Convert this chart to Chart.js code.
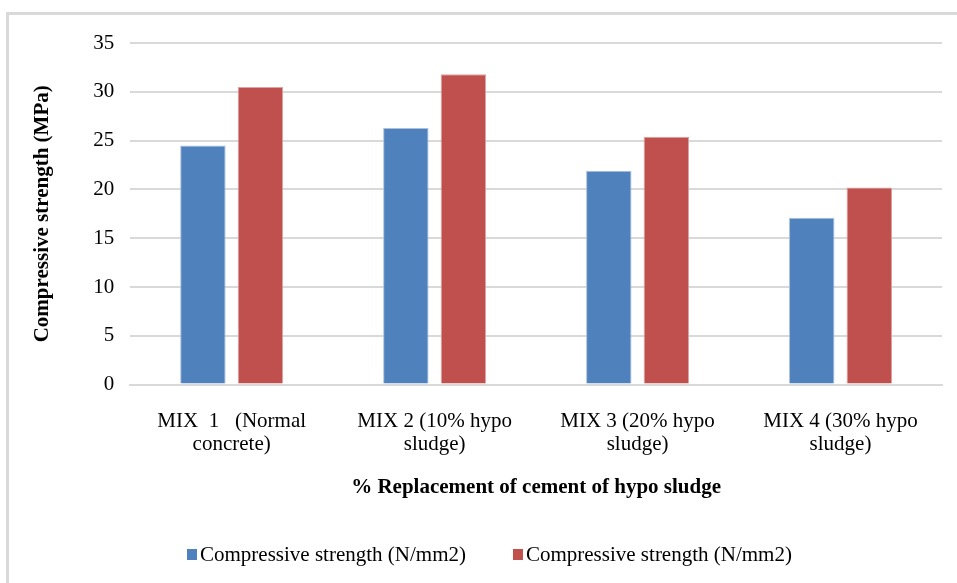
<!DOCTYPE html>
<html>
<head>
<meta charset="utf-8">
<script src="https://cdn.jsdelivr.net/npm/chart.js@4"></script>
<style>
  html, body { margin: 0; padding: 0; background: #ffffff; overflow: hidden; }
  #frame { position: absolute; left: 6px; top: 12px; width: 1000px; height: 640px;
           border-left: 3px solid #d9d9d9; border-top: 3px solid #d9d9d9; box-sizing: border-box; }
  #wrap { position: absolute; left: 0; top: 0; width: 957px; height: 583px; }
</style>
</head>
<body>
<div id="frame"></div>
<div id="wrap"><canvas id="c" width="957" height="583"></canvas></div>
<script>
const categories = [
  ["MIX  1   (Normal", "concrete)"],
  ["MIX 2 (10% hypo", "sludge)"],
  ["MIX 3 (20% hypo", "sludge)"],
  ["MIX 4 (30% hypo", "sludge)"]
];
const seriesNames = ["Compressive strength (N/mm2)", "Compressive strength (N/mm2)"];
const seriesA = [24.5, 26.3, 21.9, 17.1];
const seriesB = [30.5, 31.8, 25.4, 20.2];
const yTitle = "Compressive strength (MPa)";
const xTitle = "% Replacement of cement of hypo sludge";

const FONT = "'Liberation Serif', 'Times New Roman', serif";

// Legend drawn from the chart's own datasets (box sits close to its text, as in the reference)
const bottomLegend = {
  id: 'bottomLegend',
  afterDraw(chart) {
    const ctx = chart.ctx;
    ctx.save();
    ctx.font = '21px ' + FONT;
    ctx.textBaseline = 'middle';
    ctx.textAlign = 'left';
    let x = 187;
    const yMid = 555;
    chart.data.datasets.forEach(ds => {
      ctx.fillStyle = ds.backgroundColor;
      ctx.fillRect(x, yMid - 6, 10, 11);
      ctx.fillStyle = '#000';
      ctx.fillText(ds.label, x + 13, yMid);
      x += 13 + ctx.measureText(ds.label).width + 47;
    });
    ctx.restore();
  }
};

new Chart(document.getElementById('c'), {
  type: 'bar',
  data: {
    labels: categories,
    datasets: [
      { label: seriesNames[0], data: seriesA, backgroundColor: '#4F81BD',
        borderColor: '#a9c0de', borderWidth: {top:1,left:1,right:1,bottom:0},
        categoryPercentage: 0.567, barPercentage: 0.79 },
      { label: seriesNames[1], data: seriesB, backgroundColor: '#C0504D',
        borderColor: '#dca3a1', borderWidth: {top:1,left:1,right:1,bottom:0},
        categoryPercentage: 0.567, barPercentage: 0.79 }
    ]
  },
  options: {
    responsive: false,
    animation: false,
    devicePixelRatio: 1,
    layout: { padding: { left: 30, right: 15, top: 43, bottom: 83 } },
    plugins: {
      tooltip: { enabled: false },
      legend: { display: false }
    },
    scales: {
      x: {
        grid: { display: false, drawTicks: false },
        border: { display: true, color: '#d9d9d9', width: 2 },
        ticks: { color: '#000', font: { family: FONT, size: 21, lineHeight: 1.1 }, padding: 25, maxRotation: 0, autoSkip: false },
        title: { display: true, text: xTitle, color: '#000',
                 font: { family: FONT, size: 21, weight: 'bold' }, padding: { top: -6, bottom: 0 } }
      },
      y: {
        min: 0, max: 35,
        ticks: { stepSize: 5, color: '#000', font: { family: FONT, size: 21 }, padding: 16 },
        grid: { color: '#d9d9d9', lineWidth: 2, drawTicks: false },
        border: { display: false },
        title: { display: true, text: yTitle, color: '#000',
                 font: { family: FONT, size: 21, weight: 'bold' }, padding: { top: 0, bottom: 22 } }
      }
    }
  },
  plugins: [bottomLegend]
});
</script>
</body>
</html>
